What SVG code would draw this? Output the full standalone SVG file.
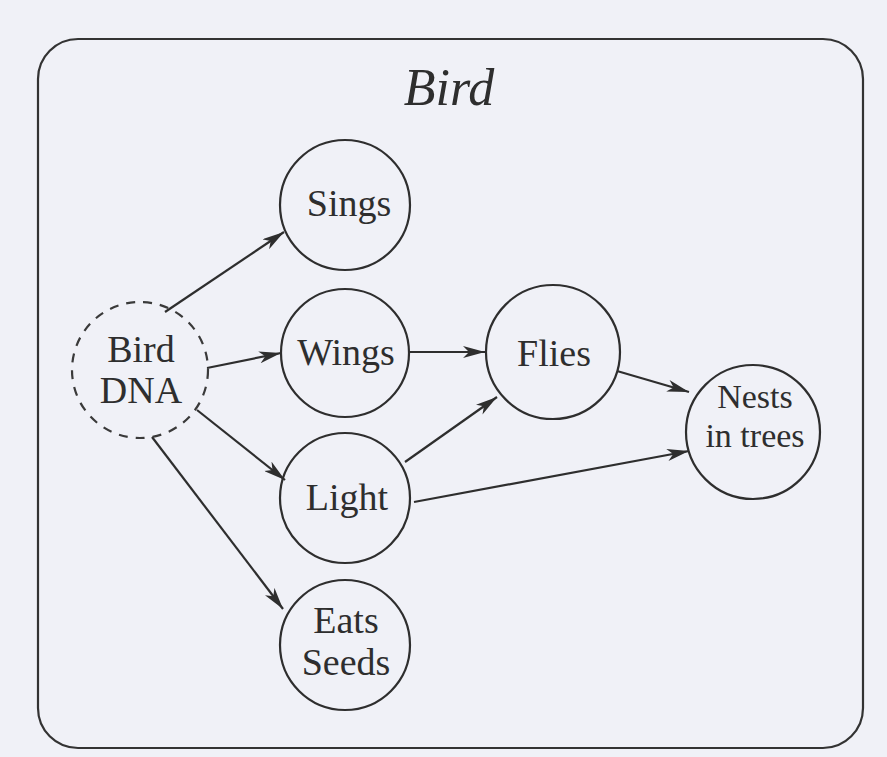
<svg xmlns="http://www.w3.org/2000/svg" width="887" height="757" viewBox="0 0 887 757">
  <style>
    .node { fill: none; stroke: #2e2e2e; stroke-width: 2.2; }
    .dna { fill: none; stroke: #3a3a3a; stroke-width: 2.2; stroke-dasharray: 9 8; }
    .lbl { font-family: "Liberation Serif", "DejaVu Serif", serif; font-size: 38px; fill: #2e2e2e; text-anchor: middle; }
    .small { font-size: 34px; }
    .edge { stroke: #2e2e2e; stroke-width: 2.2; fill: none; marker-end: url(#arrow); }
  </style>
  <defs>
    <marker id="arrow" viewBox="0 0 22 12" refX="22" refY="6" markerWidth="22" markerHeight="12" markerUnits="userSpaceOnUse" orient="auto">
      <path d="M0,0 L22,6 L0,12 L6,6 Z" fill="#2e2e2e"/>
    </marker>
  </defs>

  <rect width="887" height="757" fill="#f0f1f7"/>

  <!-- outer frame -->
  <rect x="38" y="39" width="825" height="709" rx="40" ry="40" fill="none" stroke="#333" stroke-width="2.2"/>
  <text x="449" y="105" class="lbl" style="font-size:52px;font-style:italic">Bird</text>

  <g id="connectors">
    <line class="edge" x1="165" y1="312" x2="284" y2="232"/>
    <line class="edge" x1="207" y1="368" x2="281" y2="353"/>
    <line class="edge" x1="197" y1="410" x2="285" y2="480"/>
    <line class="edge" x1="152" y1="437" x2="283" y2="609"/>
    <line class="edge" x1="410" y1="352" x2="485" y2="352"/>
    <line class="edge" x1="617" y1="371" x2="689" y2="392"/>
    <line class="edge" x1="405" y1="462" x2="497" y2="397"/>
    <line class="edge" x1="414" y1="502" x2="689" y2="451"/>
  </g>

  <g id="bird-dna">
    <circle class="dna" cx="140" cy="370" r="68"/>
    <text class="lbl" x="141" y="362">Bird</text>
    <text class="lbl" x="141" y="403">DNA</text>
  </g>
  <g id="sings">
    <circle class="node" cx="345" cy="205" r="65"/>
    <text class="lbl" x="349" y="216">Sings</text>
  </g>
  <g id="wings">
    <circle class="node" cx="345" cy="353" r="64"/>
    <text class="lbl" x="346" y="365">Wings</text>
  </g>
  <g id="light">
    <circle class="node" cx="345" cy="498" r="65"/>
    <text class="lbl" x="347" y="510">Light</text>
  </g>
  <g id="eats-seeds">
    <circle class="node" cx="345" cy="645" r="65"/>
    <text class="lbl" x="346" y="633">Eats</text>
    <text class="lbl" x="346" y="675">Seeds</text>
  </g>
  <g id="flies">
    <circle class="node" cx="553" cy="352" r="67"/>
    <text class="lbl" x="554" y="366">Flies</text>
  </g>
  <g id="nests">
    <circle class="node" cx="753" cy="432" r="67"/>
    <text class="lbl small" x="755" y="408">Nests</text>
    <text class="lbl small" x="755" y="447">in trees</text>
  </g>
</svg>
